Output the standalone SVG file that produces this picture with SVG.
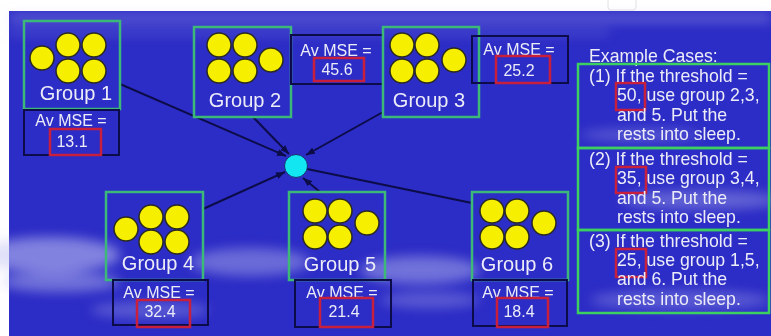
<svg xmlns="http://www.w3.org/2000/svg" width="771" height="336" viewBox="0 0 771 336">
<defs>
<style>
.grp{fill:none;stroke:#3cb878;stroke-width:2.5}
.mse{fill:none;stroke:#0c0c4a;stroke-width:2}
.red{fill:none;stroke:#c8203c;stroke-width:2.5}
.dot{fill:#f6ef00;stroke:#2a2a20;stroke-width:1.5}
.lbl{font-family:"Liberation Sans",Arial,sans-serif;font-size:20px;fill:#ececf8;text-anchor:middle}
.ms{font-family:"Liberation Sans",Arial,sans-serif;font-size:16px;fill:#ececf8;text-anchor:middle}
.ex{font-family:"Liberation Sans",Arial,sans-serif;font-size:17.7px;fill:#ececf8}
.conn{stroke:#0c0c48;stroke-width:2;fill:none}
.case{fill:none;stroke:#3cd060;stroke-width:2.5}
</style>
<marker id="ah" markerUnits="userSpaceOnUse" markerWidth="9" markerHeight="7" refX="9" refY="3.5" orient="auto">
<path d="M0,0 L9,3.5 L0,7 z" fill="#0c0c48"/>
</marker>
<filter id="blur" x="-50%" y="-50%" width="200%" height="200%"><feGaussianBlur stdDeviation="6"/></filter>
</defs>
<rect x="0" y="0" width="771" height="336" fill="#ffffff"/>
<rect x="608" y="-4" width="28" height="14" rx="3" fill="none" stroke="#e2e2e2" stroke-width="1"/>
<rect x="9" y="11" width="762" height="325" fill="#2c2cc6"/>
<g filter="url(#blur)" fill="#c8c8f4">
<rect x="9" y="14" width="762" height="8" opacity="0.35"/>
<rect x="9" y="30" width="600" height="5" opacity="0.25"/>
<ellipse cx="50" cy="255" rx="70" ry="18" opacity="0.55"/>
<ellipse cx="60" cy="282" rx="60" ry="10" opacity="0.45"/>
<ellipse cx="250" cy="262" rx="60" ry="14" opacity="0.4"/>
<ellipse cx="420" cy="270" rx="60" ry="14" opacity="0.45"/>
<ellipse cx="430" cy="300" rx="50" ry="8" opacity="0.3"/>
<ellipse cx="700" cy="200" rx="80" ry="10" opacity="0.35"/>
<ellipse cx="680" cy="300" rx="90" ry="10" opacity="0.3"/>
<ellipse cx="150" cy="310" rx="60" ry="8" opacity="0.3"/>
<ellipse cx="640" cy="135" rx="60" ry="6" opacity="0.3"/>
</g>
<g id="connectors">
<line class="conn" x1="120" y1="84" x2="286" y2="156" marker-end="url(#ah)"/>
<line class="conn" x1="253" y1="117" x2="289" y2="154" marker-end="url(#ah)"/>
<line class="conn" x1="383" y1="112" x2="306" y2="155" marker-end="url(#ah)"/>
<line class="conn" x1="203" y1="209" x2="285" y2="172" marker-end="url(#ah)"/>
<line class="conn" x1="320" y1="192" x2="303" y2="178" marker-end="url(#ah)"/>
<line class="conn" x1="472" y1="203" x2="307" y2="169"/>
</g>
<g id="hub"><circle cx="296" cy="166" r="11.5" fill="#12e6f0" stroke="#1a2a70" stroke-width="1"/></g>
<g id="group1">
<rect class="grp" x="24" y="21" width="96" height="88"/>
<circle class="dot" cx="42" cy="58" r="12"/>
<circle class="dot" cx="68" cy="45" r="12"/><circle class="dot" cx="94" cy="45" r="12"/>
<circle class="dot" cx="68" cy="71" r="12"/><circle class="dot" cx="94" cy="71" r="12"/>
<text class="lbl" x="76" y="100">Group 1</text>
</g>
<g id="mse1">
<rect class="mse" x="24" y="110" width="95" height="45"/>
<text class="ms" x="71" y="126">Av MSE =</text>
<rect class="red" x="50" y="129" width="51" height="26"/>
<text class="ms" x="72" y="147">13.1</text>
</g>
<g id="group2">
<rect class="grp" x="194" y="27" width="97" height="90"/>
<circle class="dot" cx="219" cy="45" r="12"/><circle class="dot" cx="245" cy="45" r="12"/>
<circle class="dot" cx="219" cy="71" r="12"/><circle class="dot" cx="245" cy="71" r="12"/>
<circle class="dot" cx="271" cy="60" r="12"/>
<text class="lbl" x="245" y="107">Group 2</text>
</g>
<g id="mse2">
<rect class="mse" x="291" y="35" width="92" height="49"/>
<text class="ms" x="336" y="56">Av MSE =</text>
<rect class="red" x="314" y="58" width="50" height="23"/>
<text class="ms" x="337" y="75">45.6</text>
</g>
<g id="group3">
<rect class="grp" x="383" y="27" width="96" height="90"/>
<circle class="dot" cx="402" cy="45" r="12"/><circle class="dot" cx="427" cy="45" r="12"/>
<circle class="dot" cx="402" cy="71" r="12"/><circle class="dot" cx="427" cy="71" r="12"/>
<circle class="dot" cx="454" cy="60" r="12"/>
<text class="lbl" x="429" y="107">Group 3</text>
</g>
<g id="mse3">
<rect class="mse" x="472" y="36" width="96" height="47"/>
<text class="ms" x="519" y="55">Av MSE =</text>
<rect class="red" x="496" y="56" width="54" height="27"/>
<text class="ms" x="519" y="76">25.2</text>
</g>
<g id="group4">
<rect class="grp" x="106" y="192" width="97" height="88"/>
<circle class="dot" cx="126" cy="229" r="12"/>
<circle class="dot" cx="151" cy="217" r="12"/><circle class="dot" cx="177" cy="217" r="12"/>
<circle class="dot" cx="151" cy="242" r="12"/><circle class="dot" cx="177" cy="242" r="12"/>
<text class="lbl" x="158" y="270">Group 4</text>
</g>
<g id="mse4">
<rect class="mse" x="113" y="280" width="95" height="45"/>
<text class="ms" x="159" y="298">Av MSE =</text>
<rect class="red" x="137" y="300" width="53" height="27"/>
<text class="ms" x="160" y="317">32.4</text>
</g>
<g id="group5">
<rect class="grp" x="289" y="192" width="96" height="88"/>
<circle class="dot" cx="315" cy="211" r="12"/><circle class="dot" cx="340" cy="211" r="12"/>
<circle class="dot" cx="315" cy="237" r="12"/><circle class="dot" cx="340" cy="237" r="12"/>
<circle class="dot" cx="367" cy="223" r="12"/>
<text class="lbl" x="340" y="271">Group 5</text>
</g>
<g id="mse5">
<rect class="mse" x="295" y="280" width="96" height="47"/>
<text class="ms" x="342" y="298">Av MSE =</text>
<rect class="red" x="320" y="298" width="53" height="29"/>
<text class="ms" x="344" y="317">21.4</text>
</g>
<g id="group6">
<rect class="grp" x="472" y="192" width="96" height="88"/>
<circle class="dot" cx="492" cy="211" r="12"/><circle class="dot" cx="517" cy="211" r="12"/>
<circle class="dot" cx="492" cy="237" r="12"/><circle class="dot" cx="517" cy="237" r="12"/>
<circle class="dot" cx="544" cy="223" r="12"/>
<text class="lbl" x="517" y="271">Group 6</text>
</g>
<g id="mse6">
<rect class="mse" x="473" y="280" width="94" height="46"/>
<text class="ms" x="518" y="298">Av MSE =</text>
<rect class="red" x="497" y="298" width="51" height="29"/>
<text class="ms" x="519" y="317">18.4</text>
</g>
<g id="examples">
<text class="ex" x="589" y="62">Example Cases:</text>
<rect class="case" x="578" y="64" width="191" height="84"/>
<rect class="red" x="616" y="83" width="29" height="27"/>
<text class="ex" x="589" y="82">(1) If the threshold =</text>
<text class="ex" x="617" y="101">50, use group 2,3,</text>
<text class="ex" x="617" y="121">and 5. Put the</text>
<text class="ex" x="617" y="140">rests into sleep.</text>
<rect class="case" x="578" y="148" width="191" height="82"/>
<rect class="red" x="616" y="167" width="30" height="26"/>
<text class="ex" x="589" y="165">(2) If the threshold =</text>
<text class="ex" x="617" y="184">35, use group 3,4,</text>
<text class="ex" x="617" y="204">and 5. Put the</text>
<text class="ex" x="617" y="223">rests into sleep.</text>
<rect class="case" x="578" y="230" width="191" height="83"/>
<rect class="red" x="616" y="249" width="30" height="28"/>
<text class="ex" x="589" y="247">(3) If the threshold =</text>
<text class="ex" x="617" y="266">25, use group 1,5,</text>
<text class="ex" x="617" y="285">and 6. Put the</text>
<text class="ex" x="617" y="305">rests into sleep.</text>
</g>
</svg>
